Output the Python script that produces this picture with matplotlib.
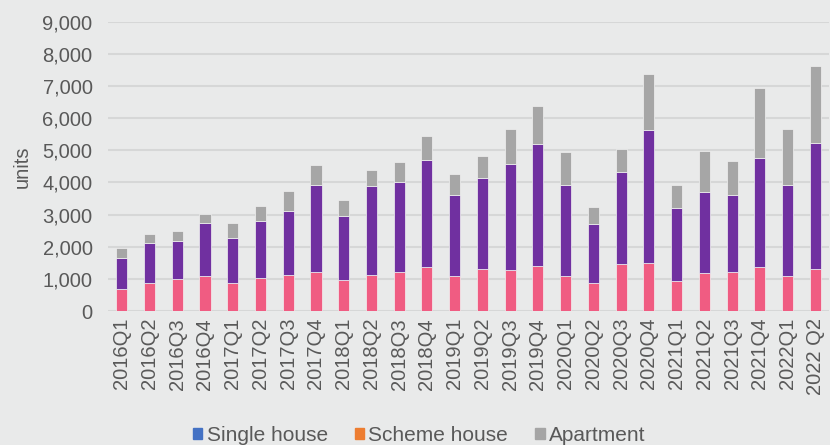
import numpy as np
import matplotlib
matplotlib.use("Agg")
import matplotlib.pyplot as plt
from matplotlib.patches import Patch
from matplotlib.ticker import FuncFormatter

# quarters
quarters = ["2016Q1", "2016Q2", "2016Q3", "2016Q4",
            "2017Q1", "2017Q2", "2017Q3", "2017Q4",
            "2018Q1", "2018Q2", "2018Q3", "2018Q4",
            "2019Q1", "2019Q2", "2019Q3", "2019Q4",
            "2020Q1", "2020Q2", "2020Q3", "2020Q4",
            "2021Q1", "2021Q2", "2021Q3", "2021Q4",
            "2022Q1", "2022 Q2"]

# cumulative tops
single_top = [685, 870, 995, 1100, 870, 1025, 1130, 1215, 955, 1130, 1205, 1360,
              1090, 1320, 1275, 1390, 1090, 870, 1465, 1495, 945, 1170, 1205, 1360,
              1090, 1320]
scheme_top = [1640, 2115, 2190, 2750, 2270, 2810, 3120, 3920, 2965, 3890, 4025, 4690,
              3620, 4140, 4585, 5195, 3920, 2710, 4325, 5645, 3215, 3705, 3620, 4770,
              3920, 5240]
total_top = [1970, 2385, 2500, 3020, 2750, 3255, 3735, 4555, 3445, 4400, 4625, 5435,
             4255, 4815, 5655, 6380, 4950, 3225, 5030, 7375, 3920, 4990, 4660, 6940,
             5655, 7635]

single = np.array(single_top)
scheme = np.array(scheme_top) - single
apartment = np.array(total_top) - np.array(scheme_top)

bg = "#e9eaea"
txt = "#595959"
plt.rcParams["font.family"] = ["Liberation Sans", "DejaVu Sans"]

fig = plt.figure(figsize=(8.3, 4.45), dpi=100, facecolor=bg)
ax = fig.add_axes([0.130, 0.301, 0.869, 0.650], facecolor=bg)

x = np.arange(len(quarters))
w = 0.40
ec = "#f2f2f2"
ax.bar(x, single, w, color="#f05c82", edgecolor=ec, linewidth=0.5, zorder=3)
ax.bar(x, scheme, w, bottom=single, color="#7030a0", edgecolor=ec, linewidth=0.5, zorder=3)
ax.bar(x, apartment, w, bottom=single + scheme, color="#a6a6a6", edgecolor=ec,
       linewidth=0.5, zorder=3)

ax.set_xlim(-0.5, len(quarters) - 0.5)
ax.set_ylim(0, 9000)
ax.set_yticks(np.arange(0, 9001, 1000))
ax.yaxis.set_major_formatter(FuncFormatter(lambda v, p: f"{int(v):,}"))
ax.set_xticks(x)
ax.set_xticklabels(quarters, rotation=90)
ax.tick_params(axis="both", length=0, labelsize=14.5, colors=txt)
ax.tick_params(axis="y", pad=11)
ax.tick_params(axis="x", pad=5)
ax.grid(axis="y", color="#d6d7d7", linewidth=1.5, zorder=0)
for s in ax.spines.values():
    s.set_visible(False)

ax.set_ylabel("units", fontsize=14.5, color=txt, labelpad=8)
ax.yaxis.set_label_coords(-0.105, 0.5)

handles = [Patch(color="#4472c4", label="Single house"),
           Patch(color="#ed7d31", label="Scheme house"),
           Patch(color="#a5a5a5", label="Apartment")]
leg = fig.legend(handles=handles, loc="center", bbox_to_anchor=(0.505, 0.022), ncol=3,
                 frameon=False, fontsize=15, handlelength=0.45, handleheight=0.45,
                 handletextpad=0.2, columnspacing=1.3, labelcolor=txt)

fig.savefig("out.png", dpi=100, facecolor=bg)
